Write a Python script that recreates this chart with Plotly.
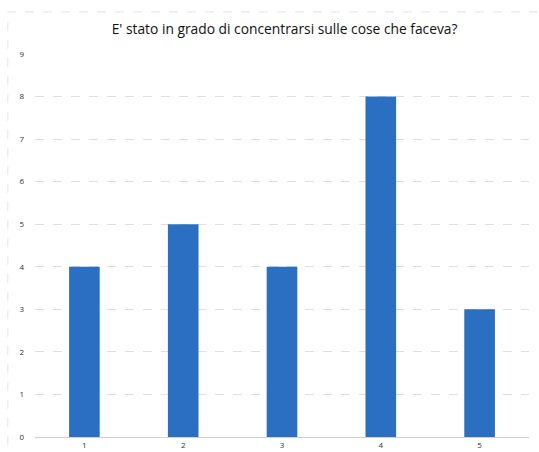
import plotly.graph_objects as go

# data
categories = ['1', '2', '3', '4', '5']
counts = [4, 5, 4, 8, 3]
y_ticks = [0, 1, 2, 3, 4, 5, 6, 7, 8, 9]

fig = go.Figure()

fig.add_trace(go.Bar(x=categories, y=counts,
                     width=0.31,
                     marker=dict(color='#2b6fc2', line=dict(width=0))))

fig.update_layout(
    width=539, height=452,
    title=dict(text="E' stato in grado di concentrarsi sulle cose che faceva?",
               x=0.528, xanchor='center', y=0.935, yanchor='middle',
               font=dict(family='Open Sans', size=13.8, color='#111')),
    margin=dict(l=35, r=10, t=54, b=15),
    paper_bgcolor='white',
    plot_bgcolor='white',
    showlegend=False,
    font=dict(family='Open Sans', size=8, color='#333'),
    xaxis=dict(showgrid=False, showline=True, linecolor='#d0d0d0', linewidth=1,
               ticks='', automargin=False, ticklabelstandoff=0,
               tickfont=dict(size=8, color='#333')),
    yaxis=dict(range=[0, 9], tickvals=y_ticks, showgrid=True,
               gridcolor='#e0e0e0', griddash='dash', gridwidth=1,
               zeroline=False, ticks='', ticklabelstandoff=10, automargin=False,
               tickfont=dict(size=8, color='#333')),
    shapes=[dict(type='rect', xref='paper', yref='paper',
                 x0=-0.055, x1=1.03, y0=-0.06, y1=1.11,
                 line=dict(color='#e4e4e4', width=1, dash='dash'))],
)

# page default has an 8px body margin; remove it so the figure fills the window
fig.write_html("out.html", config={'displayModeBar': False},
               post_script="document.body.style.margin='0';")
